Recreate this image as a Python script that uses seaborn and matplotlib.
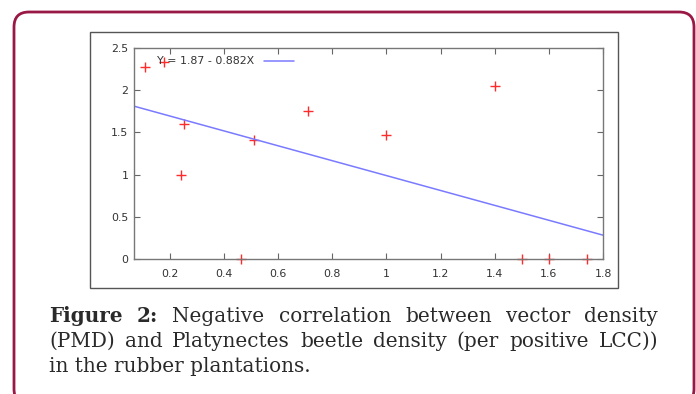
import matplotlib
matplotlib.use("Agg")
import matplotlib.pyplot as plt
from matplotlib.patches import FancyBboxPatch, Rectangle
from matplotlib.transforms import IdentityTransform
import seaborn as sns

# values (PMD vs beetle density)
pmd = [0.108, 0.179, 0.252, 0.241, 0.509, 0.711, 1.0, 1.4, 0.461, 1.50, 1.60, 1.74]
beetle = [2.28, 2.34, 1.60, 1.00, 1.41, 1.75, 1.47, 2.05, 0, 0, 0, 0]

# fitted line Y = a + bX
intercept = 1.87
slope = -0.882
fit_label = "Y = 1.87 - 0.882X"
fit_x = [0.067, 1.8]
fit_y = [intercept + slope * v for v in fit_x]

x_ticks = [0.2, 0.4, 0.6, 0.8, 1.0, 1.2, 1.4, 1.6, 1.8]
x_ticklabels = ["0.2", "0.4", "0.6", "0.8", "1", "1.2", "1.4", "1.6", "1.8"]
y_ticks = [0, 0.5, 1, 1.5, 2, 2.5]
y_ticklabels = ["0", "0.5", "1", "1.5", "2", "2.5"]

caption_1 = [("Figure", True), ("2:", True), ("Negative", False), ("correlation", False),
             ("between", False), ("vector", False), ("density", False)]
caption_2 = [("(PMD)", False), ("and", False), ("Platynectes", False), ("beetle", False),
             ("density", False), ("(per", False), ("positive", False), ("LCC))", False)]
caption_3 = "in the rubber plantations."

sns.set_style("ticks")
plt.rcParams['font.family'] = ['DejaVu Sans']

W, H = 696, 394
fig = plt.figure(figsize=(W / 100, H / 100), dpi=100)
fig.patch.set_facecolor("white")

# rounded maroon frame (pixel coords, y from bottom)
frame = FancyBboxPatch((14, H - 404), 680, 392,
                       boxstyle="round,pad=0,rounding_size=15",
                       transform=IdentityTransform(), facecolor="none",
                       edgecolor="#9a1845", linewidth=2.0, zorder=-2)
fig.add_artist(frame)

# grey box around the plot image
box = Rectangle((90, H - 288), 528, 256, transform=IdentityTransform(),
                facecolor="white", edgecolor="#555555", linewidth=1.0, zorder=-1)
fig.add_artist(box)

ax = fig.add_axes([134 / W, (H - 259) / H, 469 / W, 211 / H])
ax.set_zorder(1)
ax.set_facecolor("white")

sns.scatterplot(x=pmd, y=beetle, marker="+", s=50, color="#ff2a2a",
                linewidth=1.0, ax=ax, clip_on=False, zorder=2)
sns.lineplot(x=fit_x, y=fit_y, color="#7a7aff", linewidth=1.1,
             label=fit_label, ax=ax)

ax.set_xlim(0.067, 1.8)
ax.set_ylim(0, 2.5)
ax.set_xticks(x_ticks)
ax.set_xticklabels(x_ticklabels)
ax.set_yticks(y_ticks)
ax.set_yticklabels(y_ticklabels)
ax.tick_params(direction="in", length=4, width=0.8, color="#666666",
               top=True, right=True, labelsize=7.9, labelcolor="#333333")
ax.tick_params(axis="x", pad=7.5)
ax.tick_params(axis="y", pad=4)
for sp in ax.spines.values():
    sp.set_visible(True)
    sp.set_color("#777777")
    sp.set_linewidth(1.0)

ax.legend(loc="upper left", bbox_to_anchor=(0.05, 0.96), frameon=False,
          markerfirst=False, handlelength=2.7, handletextpad=0.9,
          borderpad=0, borderaxespad=0, fontsize=7.9, labelcolor="#333333")

# caption, first two lines justified between x=49 and x=658
cap_kw = dict(family=["DejaVu Serif"], fontsize=14.4,
              color="#2a2a2a", va="baseline")
renderer = fig.canvas.get_renderer()


def justify(words, y_base, x0=49, x1=658):
    texts = [fig.text(0, 0, w, fontweight="bold" if b else "normal", **cap_kw)
             for w, b in words]
    widths = [t.get_window_extent(renderer).width for t in texts]
    gap = (x1 - x0 - sum(widths)) / (len(words) - 1)
    x = x0
    for t, w in zip(texts, widths):
        t.set_position((x / W, 1 - y_base / H))
        x += w + gap


justify(caption_1, 322)
justify(caption_2, 347)
fig.text(49 / W, 1 - 372 / H, caption_3, **cap_kw)

fig.savefig("out.png", dpi=100)
